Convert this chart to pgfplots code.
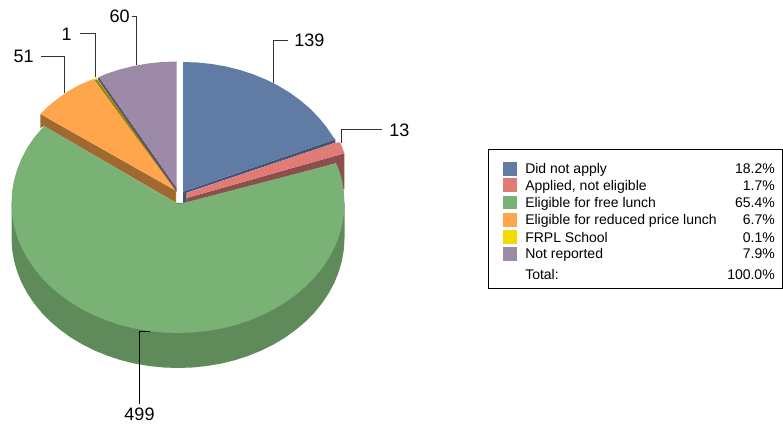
\documentclass[border=0pt]{standalone}
\usepackage{pgfplots}
\pgfplotsset{compat=1.18}
\usepackage{fontspec}
\setmainfont{Liberation Sans}
\definecolor{cblue}{HTML}{607CA5}
\definecolor{dblue}{HTML}{40557A}
\definecolor{cred}{HTML}{E07B75}
\definecolor{dred}{HTML}{8C4F4D}
\definecolor{cgreen}{HTML}{7AB276}
\definecolor{dgreen}{HTML}{5F8B5B}
\definecolor{corange}{HTML}{FFA64D}
\definecolor{dorange}{HTML}{A0692F}
\definecolor{cyellow}{HTML}{F2DC00}
\definecolor{dyellow}{HTML}{9A8800}
\definecolor{cpurple}{HTML}{9C8AA6}
\definecolor{dpurple}{HTML}{5F5470}
\definecolor{leader}{HTML}{333333}
\begin{document}
\begin{tikzpicture}
\begin{axis}[
  scale only axis, width=587.25pt, height=318pt,
  xmin=0, xmax=783, ymin=0, ymax=424, y dir=reverse,
  hide axis, clip=false,
]
\path (axis cs:0,0) rectangle (axis cs:783,424);
% side walls
\addplot[fill=dgreen, draw=none] coordinates {(344.5,203)(344.5,238)(343.9,249.3)(342,260.6)(338.8,271.6)(334.5,282.5)(328.9,292.9)(322.2,303)(314.4,312.6)(305.5,321.6)(295.7,329.9)(285,337.6)(273.5,344.5)(261.25,350.6)(248.4,355.8)(234.9,360.2)(221.1,363.6)(206.9,366)(192.5,367.5)(178,368)(163.5,367.5)(149.1,366)(134.9,363.6)(121.1,360.2)(107.6,355.8)(94.75,350.6)(82.5,344.5)(71,337.6)(60.3,329.9)(50.5,321.6)(41.6,312.6)(33.8,303)(27.1,292.9)(21.5,282.5)(17.2,271.6)(14,260.6)(12.1,249.3)(11.5,238)(11.5,203)} --cycle;
\addplot[fill=dred, draw=none] coordinates {(186.7,198)(344.3,153.3)(344.3,189.5)(340,189.5)(336,163.3)(189,203)(186.7,203)} --cycle;
\addplot[fill=dblue, draw=none] coordinates {(335.3,139.3)(335.3,142.7)(186.7,192.7)(186.7,203)(183,203)(183,191.7)} --cycle;
\addplot[fill=dorange, draw=none] coordinates {(40.3,114)(175.5,190.5)(175.5,202)(178,204)(44,126)(40.3,128)} --cycle;
\addplot[fill=dyellow, draw=none] coordinates {(94.3,80)(97.2,79.5)(176.2,189)(176.2,201.5)(175.2,201.5)(175.2,191.5)} --cycle;
\addplot[fill=dpurple, draw=none] coordinates {(99,77)(97.7,79.3)(176.7,192)(176.7,188)} --cycle;
% top surfaces
\addplot[fill=cblue, draw=none] coordinates {(183,62)(197.5,62.5)(211.8,64)(226,66.5)(239.8,69.9)(253.2,74.3)(266,79.6)(278.2,85.7)(289.7,92.6)(300.4,100.4)(310.2,108.8)(319,117.9)(326.8,127.5)(333.4,137.3)(335.3,139.3)(183,191.7)} --cycle;
\addplot[fill=cred, draw=none] coordinates {(186.7,192.9)(335.3,142.7)(340,142.3)(342.5,148)(344.3,153.3)(186.7,198)} --cycle;
\addplot[fill=corange, draw=none] coordinates {(40.3,114)(46.8,107.5)(56.6,99.5)(67.3,91.8)(78.8,85.2)(93.2,79)(175.7,190.5)} --cycle;
\addplot[fill=cyellow, draw=none] coordinates {(93.2,79)(97.5,77.6)(97.2,79.5)(94.3,80)} --cycle;
\addplot[fill=cpurple, draw=none] coordinates {(176.7,61.5)(162.2,62)(147.9,63.5)(133.7,66)(119.9,69.4)(106.5,73.8)(99,77)(176.7,188)} --cycle;
\addplot[fill=cgreen, draw=none] coordinates {(178,204.3)(336,163.3)(338.8,169.4)(342,180.4)(343.9,191.7)(344.5,203)(343.9,214.3)(342,225.6)(338.8,236.6)(334.5,247.5)(328.9,257.9)(322.2,268)(314.4,277.6)(305.5,286.6)(295.7,294.9)(285,302.6)(273.5,309.5)(261.25,315.6)(248.4,320.8)(234.9,325.2)(221.1,328.6)(206.9,331)(192.5,332.5)(178,333)(163.5,332.5)(149.1,331)(134.9,328.6)(121.1,325.2)(107.6,320.8)(94.75,315.6)(82.5,309.5)(71,302.6)(60.3,294.9)(50.5,286.6)(41.6,277.6)(33.8,268)(27.1,257.9)(21.5,247.5)(17.2,236.6)(14,225.6)(12.1,214.3)(11.5,203)(12.1,191.7)(14,180.4)(17.2,169.4)(21.5,158.5)(27.1,148.1)(33.8,138)(44,126)} --cycle;
% leaders
\addplot[leader, line width=0.75pt] coordinates {(273.3,83)(273.3,41)(288.3,41)};
\addplot[leader, line width=0.75pt] coordinates {(341,143)(341,129.3)(382.3,129.3)};
\addplot[leader, line width=0.75pt] coordinates {(136,65)(136,16.7)(131.7,16.7)};
\addplot[leader, line width=0.75pt] coordinates {(95.7,77)(95.7,34)(80,34)};
\addplot[leader, line width=0.75pt] coordinates {(64,93)(64,56.7)(41,56.7)};
\addplot[black, line width=0.75pt] coordinates {(150,331.3)(139.3,331.3)(139.3,404)};
% value labels
\node[font=\fontsize{13.5pt}{15pt}\selectfont, anchor=base west, inner sep=0pt] at (axis cs:294,47) {139};
\node[font=\fontsize{13.5pt}{15pt}\selectfont, anchor=base west, inner sep=0pt] at (axis cs:389,137) {13};
\node[font=\fontsize{13.5pt}{15pt}\selectfont, anchor=base east, inner sep=0pt] at (axis cs:130,23) {60};
\node[font=\fontsize{13.5pt}{15pt}\selectfont, anchor=base east, inner sep=0pt] at (axis cs:72,40.5) {1};
\node[font=\fontsize{13.5pt}{15pt}\selectfont, anchor=base east, inner sep=0pt] at (axis cs:34,63) {51};
\node[font=\fontsize{13.5pt}{15pt}\selectfont, anchor=base, inner sep=0pt] at (axis cs:139.5,421) {499};
% legend box
\addplot[draw=black, fill=white, line width=0.75pt] coordinates {(488,150)(782,150)(782,288.3)(488,288.3)} --cycle;
\addplot[fill=cblue, draw=none] coordinates {(503,162)(517,162)(517,175.7)(503,175.7)} --cycle;
\addplot[fill=cred, draw=none] coordinates {(503,178.3)(517,178.3)(517,192)(503,192)} --cycle;
\addplot[fill=cgreen, draw=none] coordinates {(503,195.7)(517,195.7)(517,209.3)(503,209.3)} --cycle;
\addplot[fill=corange, draw=none] coordinates {(503,212.7)(517,212.7)(517,226.7)(503,226.7)} --cycle;
\addplot[fill=cyellow, draw=none] coordinates {(503,230)(517,230)(517,244)(503,244)} --cycle;
\addplot[fill=cpurple, draw=none] coordinates {(503,247)(517,247)(517,260.7)(503,260.7)} --cycle;
\foreach \yy/\name/\pct in {174/Did not apply/18.2\%,191/{Applied, not eligible}/1.7\%,208/Eligible for free lunch/65.4\%,225/Eligible for reduced price lunch/6.7\%,243/FRPL School/0.1\%,259/Not reported/7.9\%,280/Total:/100.0\%}{
  \edef\temp{\noexpand\node[font=\noexpand\fontsize{10.5pt}{12pt}\noexpand\selectfont, anchor=base west, inner sep=0pt] at (axis cs:525,\yy) {\unexpanded\expandafter{\name}};
  \noexpand\node[font=\noexpand\fontsize{10.5pt}{12pt}\noexpand\selectfont, anchor=base east, inner sep=0pt] at (axis cs:775,\yy) {\unexpanded\expandafter{\pct}};}
  \temp
}
\end{axis}
\end{tikzpicture}
\end{document}
